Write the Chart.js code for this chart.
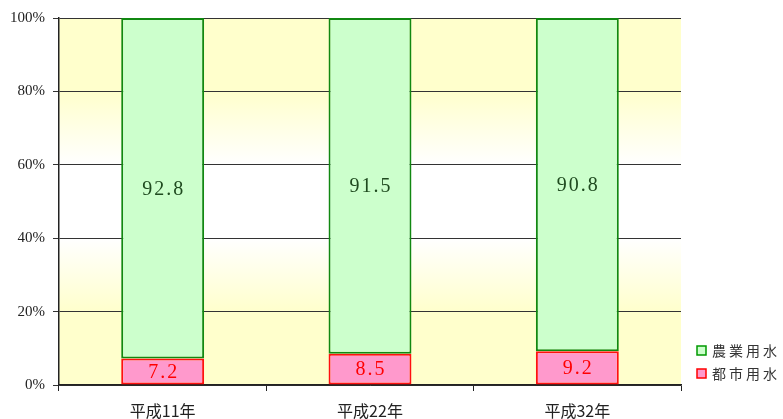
<!DOCTYPE html>
<html>
<head>
<meta charset="utf-8">
<script src="https://cdn.jsdelivr.net/npm/chart.js@4"></script>
<style>
html,body{margin:0;padding:0;background:#fff;}
#wrap{width:783px;height:419px;position:relative;}
</style>
</head>
<body>
<div id="wrap"><canvas id="c" width="783" height="419"></canvas></div>
<script>
const categories = ['平成11年', '平成22年', '平成32年'];
const seriesNames = ['都市用水', '農業用水'];
const urbanValues = [7.2, 8.5, 9.2];
const agriValues = [92.8, 91.5, 90.8];
const yTicks = [0, 20, 40, 60, 80, 100];

const bgPlugin = {
  id: 'bg',
  beforeDraw(chart) {
    const {ctx, chartArea: a} = chart;
    const g = ctx.createLinearGradient(0, a.top, 0, a.bottom);
    g.addColorStop(0, '#FFFFCC');
    g.addColorStop(0.2, '#FFFFCC');
    g.addColorStop(0.4, '#FFFFFF');
    g.addColorStop(0.6, '#FFFFFF');
    g.addColorStop(0.8, '#FFFFCC');
    g.addColorStop(1, '#FFFFCC');
    ctx.save();
    ctx.fillStyle = g;
    ctx.fillRect(a.left, a.top, a.right - a.left, a.bottom - a.top);
    ctx.restore();
  }
};

const labelPlugin = {
  id: 'vlabels',
  afterDatasetsDraw(chart) {
    const {ctx} = chart;
    ctx.save();
    ctx.font = '20px "Liberation Serif", "Noto Sans CJK JP", serif';
    ctx.textAlign = 'center';
    ctx.textBaseline = 'middle';
    try { ctx.letterSpacing = '2px'; } catch (e) {}
    chart.data.datasets.forEach((ds, di) => {
      const meta = chart.getDatasetMeta(di);
      meta.data.forEach((el, i) => {
        const v = ds.data[i];
        const yc = (el.y + el.base) / 2;
        ctx.fillStyle = ds.labelColor;
        ctx.fillText(v.toFixed(1), el.x + 1, yc + 1);
      });
    });
    ctx.restore();
  }
};

const legendPlugin = {
  id: 'customLegend',
  afterDraw(chart) {
    const {ctx} = chart;
    const items = [
      {text: '農業用水', fill: '#CCFFCC', stroke: '#009900', y: 351},
      {text: '都市用水', fill: '#FF99CC', stroke: '#FF0000', y: 374}
    ];
    ctx.save();
    ctx.font = '14px "Noto Sans CJK JP", sans-serif';
    ctx.textBaseline = 'middle';
    ctx.textAlign = 'left';
    try { ctx.letterSpacing = '3px'; } catch (e) {}
    items.forEach(it => {
      ctx.fillStyle = it.fill;
      ctx.strokeStyle = it.stroke;
      ctx.lineWidth = 1.5;
      ctx.fillRect(697, it.y - 5, 9, 9);
      ctx.strokeRect(697, it.y - 5, 9, 9);
      ctx.fillStyle = '#333';
      ctx.fillText(it.text, 712, it.y);
    });
    ctx.restore();
  }
};

new Chart(document.getElementById('c'), {
  type: 'bar',
  data: {
    labels: categories,
    datasets: [
      {
        label: seriesNames[0],
        data: urbanValues,
        backgroundColor: '#FF99CC',
        borderColor: '#FF1010',
        borderWidth: 2,
        borderSkipped: false,
        labelColor: '#FF0000',
        barPercentage: 0.4,
        categoryPercentage: 1
      },
      {
        label: seriesNames[1],
        data: agriValues,
        backgroundColor: '#CCFFCC',
        borderColor: '#118811',
        borderWidth: 2,
        borderSkipped: false,
        labelColor: '#1F4A1F',
        barPercentage: 0.4,
        categoryPercentage: 1
      }
    ]
  },
  options: {
    responsive: false,
    animation: false,
    devicePixelRatio: 1,
    layout: {padding: {top: 18, right: 102, left: 0, bottom: 0}},
    plugins: {
      legend: {display: false},
      tooltip: {enabled: false}
    },
    scales: {
      x: {
        stacked: true,
        grid: {
          display: true,
          drawOnChartArea: false,
          drawTicks: true,
          tickLength: 6,
          offset: true,
          color: '#222',
          lineWidth: 1
        },
        border: {display: true, color: '#222', width: 1.5},
        ticks: {
          color: '#222',
          padding: 10,
          font: {family: '"Noto Sans CJK JP", sans-serif', size: 16}
        },
        afterFit(s) { s.height = 34; }
      },
      y: {
        stacked: true,
        min: 0,
        max: 100,
        afterBuildTicks(s) { s.ticks = yTicks.map(v => ({value: v})); },
        grid: {
          color: '#333',
          lineWidth: 1,
          drawTicks: true,
          tickLength: 6
        },
        border: {display: true, color: '#222', width: 1.5},
        ticks: {
          color: '#222',
          padding: 8,
          font: {family: '"Liberation Serif", serif', size: 15},
          callback: v => v + '%'
        },
        afterFit(s) { s.width = 59; }
      }
    }
  },
  plugins: [bgPlugin, labelPlugin, legendPlugin]
});
</script>
</body>
</html>
